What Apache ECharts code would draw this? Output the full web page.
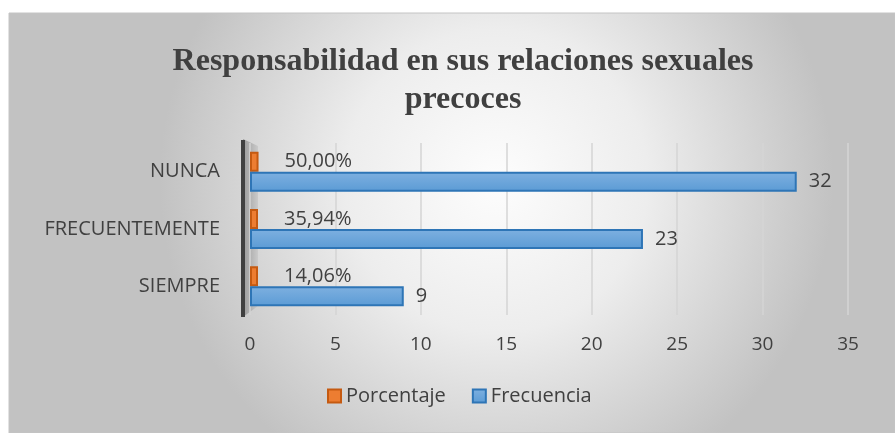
<!DOCTYPE html>
<html>
<head>
<meta charset="utf-8">
<script src="https://cdn.jsdelivr.net/npm/echarts@6/dist/echarts.min.js"></script>
<style>
  html, body { margin: 0; padding: 0; background: #fff; }
  #chart { width: 895px; height: 433px; }
</style>
</head>
<body>
<div id="chart"></div>
<script>
var categorias = ['SIEMPRE', 'FRECUENTEMENTE', 'NUNCA'];
var frecuencia = [9, 23, 32];
var porcentaje = [0.1406, 0.3594, 0.5];
var porcentajeTexto = ['14,06%', '35,94%', '50,00%'];
var ticksX = [0, 5, 10, 15, 20, 25, 30, 35];

var chart = echarts.init(document.getElementById('chart'));

var option = {
    animation: false,
    textStyle: { fontFamily: 'Open Sans' },
    graphic: [
        {
            type: 'rect', z: -10, silent: true,
            shape: { x: 9, y: 13, width: 886, height: 420 },
            style: {
                fill: {
                    type: 'radial', x: 0.55, y: 0.4, r: 0.8,
                    colorStops: [
                        { offset: 0, color: '#fdfdfd' },
                        { offset: 0.45, color: '#ededed' },
                        { offset: 1, color: '#c2c2c2' }
                    ]
                },
                stroke: '#c4c4c4', lineWidth: 1
            }
        },
        {
            // pared lateral del efecto 3D
            type: 'polygon', z: -5, silent: true,
            shape: { points: [[243, 139], [258, 146], [258, 306], [243, 317]] },
            style: {
                fill: {
                    type: 'linear', x: 0, y: 0, x2: 1, y2: 0,
                    colorStops: [
                        { offset: 0, color: '#9a9a9a' },
                        { offset: 1, color: '#cacaca' }
                    ]
                }
            }
        },
        {
            type: 'line', z: -4, silent: true,
            shape: { x1: 243, y1: 140, x2: 243, y2: 317 },
            style: { stroke: '#404040', lineWidth: 4 }
        }
    ],
    title: {
        text: 'Responsabilidad en sus relaciones sexuales\nprecoces',
        left: 458,
        top: 38,
        textAlign: 'center',
        textStyle: {
            fontFamily: 'Liberation Serif',
            fontSize: 32,
            fontWeight: 'bold',
            color: '#404040',
            lineHeight: 38
        }
    },
    legend: {
        bottom: 22,
        left: 322,
        itemWidth: 13,
        itemHeight: 13,
        itemGap: 26,
        icon: 'rect',
        data: ['Porcentaje', 'Frecuencia'],
        textStyle: { fontSize: 20, color: '#404040', fontFamily: 'Open Sans' }
    },
    grid: { left: 250, right: 47, top: 143, bottom: 118, containLabel: false },
    xAxis: {
        type: 'value',
        min: 0,
        max: 35,
        interval: 5,
        axisLine: { show: false },
        axisTick: { show: false },
        splitLine: { lineStyle: { color: '#d4d4d4', width: 1.5 } },
        axisLabel: {
            margin: 20,
            fontSize: 19,
            color: '#404040',
            formatter: function (v) { return ticksX.indexOf(v) >= 0 ? String(v) : ''; }
        }
    },
    yAxis: {
        type: 'category',
        data: categorias,
        axisLine: { show: false },
        axisTick: { show: false },
        axisLabel: { margin: 30, fontSize: 20, color: '#404040' }
    },
    series: [
        {
            name: 'Porcentaje',
            type: 'bar',
            data: porcentaje,
            barWidth: 20,
            barGap: '0%',
            barMinHeight: 8,
            itemStyle: {
                color: '#ed7d31',
                borderColor: '#c55a11',
                borderWidth: 2
            },
            label: {
                show: true,
                position: 'right',
                distance: 26,
                fontSize: 20,
                color: '#404040',
                formatter: function (p) { return porcentajeTexto[p.dataIndex]; }
            }
        },
        {
            name: 'Frecuencia',
            type: 'bar',
            data: frecuencia,
            barWidth: 20,
            barGap: '0%',
            itemStyle: {
                color: {
                    type: 'linear', x: 0, y: 0, x2: 0, y2: 1,
                    colorStops: [
                        { offset: 0, color: '#7eb0e0' },
                        { offset: 1, color: '#5b9bd5' }
                    ]
                },
                borderColor: '#2e75b6',
                borderWidth: 2
            },
            label: {
                show: true,
                position: 'right',
                distance: 12,
                fontSize: 20,
                color: '#404040'
            }
        }
    ]
};

chart.setOption(option);
</script>
</body>
</html>
